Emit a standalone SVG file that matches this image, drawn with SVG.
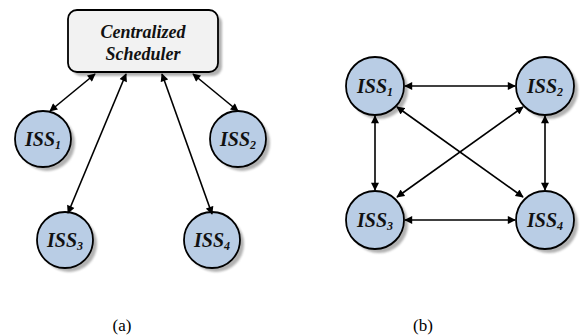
<svg xmlns="http://www.w3.org/2000/svg" width="581" height="336" viewBox="0 0 581 336">
<style>
.node{fill:#b9cde5;stroke:#000;stroke-width:1.8}
.sh{fill:#7f7f7f;opacity:0.6}
.box{fill:#f2f2f2;stroke:#000;stroke-width:1.8}
.c{stroke:#000;stroke-width:1.6;fill:none;marker-start:url(#ah);marker-end:url(#ah)}
</style>
<defs>
<filter id="blur" x="-20%" y="-20%" width="140%" height="140%"><feGaussianBlur stdDeviation="1.2"/></filter>
<marker id="ah" viewBox="0 0 10 10" refX="9" refY="5" markerWidth="9" markerHeight="8" orient="auto-start-reverse" markerUnits="userSpaceOnUse"><path d="M0,0 L10,5 L0,10 z" fill="#000"/></marker>
</defs>
<g id="scheduler">
<rect class="sh" x="72" y="14" width="150" height="62" rx="9" filter="url(#blur)"/>
<rect class="box" x="68" y="10" width="150" height="62" rx="9"/>
<g font-family="Liberation Serif, Times New Roman, serif" font-weight="bold" font-style="italic" font-size="18" fill="#111" text-anchor="middle">
<text x="143" y="38">Centralized</text>
<text x="143" y="60">Scheduler</text>
</g>
</g>
<g font-family="Liberation Serif, Times New Roman, serif" font-weight="bold" font-style="italic" font-size="20" fill="#111" text-anchor="middle">
<g id="a-iss1">
<circle class="sh" cx="47" cy="143" r="28" filter="url(#blur)"/>
<circle class="node" cx="43" cy="139" r="28"/>
<text x="43" y="146">ISS<tspan font-size="12" dy="3">1</tspan></text>
</g>
<g id="a-iss2">
<circle class="sh" cx="242" cy="143" r="28" filter="url(#blur)"/>
<circle class="node" cx="238" cy="139" r="28"/>
<text x="238" y="146">ISS<tspan font-size="12" dy="3">2</tspan></text>
</g>
<g id="a-iss3">
<circle class="sh" cx="69" cy="244" r="28" filter="url(#blur)"/>
<circle class="node" cx="65" cy="240" r="28"/>
<text x="65" y="247">ISS<tspan font-size="12" dy="3">3</tspan></text>
</g>
<g id="a-iss4">
<circle class="sh" cx="216" cy="244" r="28" filter="url(#blur)"/>
<circle class="node" cx="212" cy="240" r="28"/>
<text x="212" y="247">ISS<tspan font-size="12" dy="3">4</tspan></text>
</g>
<g id="b-iss1">
<circle class="sh" cx="379" cy="90" r="29" filter="url(#blur)"/>
<circle class="node" cx="375" cy="86" r="29"/>
<text x="375" y="93">ISS<tspan font-size="12" dy="3">1</tspan></text>
</g>
<g id="b-iss2">
<circle class="sh" cx="549" cy="90" r="29" filter="url(#blur)"/>
<circle class="node" cx="545" cy="86" r="29"/>
<text x="545" y="93">ISS<tspan font-size="12" dy="3">2</tspan></text>
</g>
<g id="b-iss3">
<circle class="sh" cx="379" cy="224" r="29" filter="url(#blur)"/>
<circle class="node" cx="375" cy="220" r="29"/>
<text x="375" y="227">ISS<tspan font-size="12" dy="3">3</tspan></text>
</g>
<g id="b-iss4">
<circle class="sh" cx="549" cy="224" r="29" filter="url(#blur)"/>
<circle class="node" cx="545" cy="220" r="29"/>
<text x="545" y="227">ISS<tspan font-size="12" dy="3">4</tspan></text>
</g>
</g>
<g id="connectors">
<line class="c" x1="95" y1="74" x2="50" y2="111"/>
<line class="c" x1="193" y1="74" x2="238" y2="111"/>
<line class="c" x1="126" y1="74" x2="68" y2="213"/>
<line class="c" x1="162" y1="74" x2="212" y2="214"/>
<line class="c" x1="405" y1="86" x2="515" y2="86"/>
<line class="c" x1="405" y1="220" x2="515" y2="220"/>
<line class="c" x1="375" y1="116" x2="375" y2="190"/>
<line class="c" x1="545" y1="116" x2="545" y2="190"/>
<line class="c" x1="397" y1="107" x2="523" y2="197"/>
<line class="c" x1="523" y1="107" x2="397" y2="197"/>
</g>
<g font-family="Liberation Serif, Times New Roman, serif" font-size="17" fill="#000" text-anchor="middle">
<text x="122" y="331">(a)</text>
<text x="423" y="331">(b)</text>
</g>
</svg>
